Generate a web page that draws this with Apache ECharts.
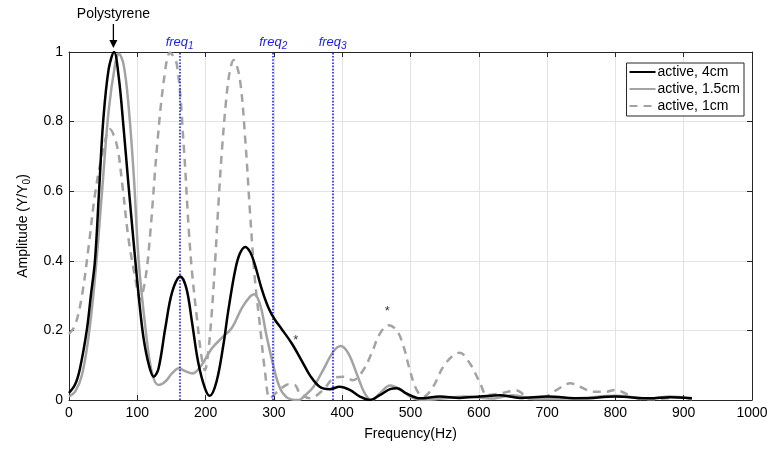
<!DOCTYPE html>
<html>
<head>
<meta charset="utf-8">
<script src="https://cdn.jsdelivr.net/npm/echarts@6/dist/echarts.min.js"></script>
<style>
html,body{margin:0;padding:0;background:#fff;}
#chart{width:771px;height:449px;}
</style>
</head>
<body>
<div id="chart"></div>
<script>
// ---- data ----
const seriesNames = ['active, 4cm', 'active, 1.5cm', 'active, 1cm'];

const freq4cm = [0,9,16,26,32,38,44,50,58,66,73,80,87,95,102,109,117,124,131,141,151,163,172,180,189,199,206,216,226,233,243,250,258,265,272,282,292,301,311,326,341,353,367,382,396,411,426,441,455,470,480,494,514,543,572,602,631,660,700,750,800,850,880,912];
const amp4cm  = [0.02,0.045,0.09,0.2,0.3,0.4,0.6,0.8,0.95,1.0,0.925,0.78,0.62,0.445,0.3,0.18,0.1,0.067,0.09,0.207,0.31,0.355,0.32,0.225,0.11,0.034,0.012,0.053,0.158,0.254,0.37,0.42,0.44,0.426,0.39,0.32,0.265,0.232,0.205,0.163,0.112,0.07,0.038,0.031,0.038,0.029,0.01,0.0,0.014,0.031,0.034,0.019,0.005,0.01,0.006,0.01,0.014,0.006,0.01,0.005,0.01,0.005,0.008,0.005];

const freq15cm = [0,9,19,29,38,48,58,68,73,80,87,95,102,112,121,131,141,151,161,170,181,194,209,223,238,253,265,271,280,289,299,309,321,336,345,358,372,387,398,409,421,433,443,455,470,485,499,519,550,580,620,650,680,750,800,850,880,912];
const amp15cm  = [0.01,0.024,0.072,0.187,0.35,0.59,0.83,0.97,0.995,0.963,0.85,0.64,0.4,0.206,0.082,0.043,0.053,0.077,0.091,0.083,0.076,0.1,0.148,0.177,0.206,0.264,0.297,0.304,0.273,0.187,0.1,0.034,0.005,0.0,0.012,0.038,0.086,0.139,0.155,0.134,0.077,0.019,0.0,0.019,0.042,0.031,0.01,0.0,0.005,0.01,0.004,0.014,0.003,0.006,0.012,0.004,0.01,0.003];

const freq1cm = [0,9,19,29,38,48,60,70,78,87,97,104,112,119,129,139,148,158,168,175,180,187,194,199,204,209,214,219,224,230,235,241,250,258,265,272,280,287,294,303,311,322,331,338,353,372,387,402,416,431,443,455,468,480,490,499,509,519,533,548,563,572,587,602,612,631,655,675,699,714,734,748,768,787,799,817,831,851,875,890,912];
const amp1cm  = [0.19,0.215,0.3,0.445,0.59,0.7,0.778,0.733,0.62,0.465,0.35,0.29,0.35,0.48,0.73,0.92,0.998,0.963,0.73,0.5,0.37,0.24,0.125,0.086,0.14,0.25,0.4,0.57,0.72,0.86,0.94,0.977,0.924,0.75,0.54,0.35,0.206,0.081,0.005,0.02,0.034,0.045,0.043,0.019,0.005,0.029,0.062,0.067,0.057,0.086,0.134,0.19,0.215,0.2,0.153,0.086,0.029,0.01,0.038,0.096,0.129,0.136,0.105,0.048,0.014,0.019,0.027,0.005,0.01,0.029,0.048,0.038,0.024,0.024,0.029,0.017,0.005,0.002,0.005,0.008,0.002];

const freqMarks = [162, 299, 386];          // dotted blue reference lines
const starFreqs = [332, 466];               // asterisk annotations
const starAmps  = [0.17, 0.255];
const peakLabel = 'Polystyrene';
const peakFreq = 65, peakAmp = 1.0;

const xTicks = {min:0, max:1000, interval:100};
const yTicks = {min:0, max:1, interval:0.2};

// ---- chart ----
const pairs = (xs, ys) => xs.map((x, i) => [x, ys[i]]);
const FONT = '"Liberation Sans", Arial, Helvetica, sans-serif';
const chart = echarts.init(document.getElementById('chart'));

const tickAxisCommon = {
  axisLine: {show: true, onZero: false, lineStyle: {color: '#262626', width: 1}},
  axisTick: {show: true, inside: true, length: 5, lineStyle: {color: '#262626'}},
};

const option = {
  backgroundColor: '#fff',
  animation: false,
  grid: {left: 69, right: 19, top: 52, bottom: 49, containLabel: false},
  legend: {
    data: seriesNames,
    orient: 'vertical',
    right: 27, top: 63,
    backgroundColor: '#fff',
    borderColor: '#262626', borderWidth: 1,
    padding: [2, 4, 3, 2],
    itemWidth: 26, itemHeight: 14, itemGap: 3,
    selectedMode: false,
    itemStyle: {color: 'transparent', borderColor: 'transparent', borderWidth: 0, opacity: 0},
    textStyle: {fontFamily: FONT, fontSize: 14, color: '#000', padding: [0, 0, 0, -3]}
  },
  xAxis: [
    Object.assign({
      type: 'value', min: xTicks.min, max: xTicks.max, interval: xTicks.interval,
      name: 'Frequency(Hz)', nameLocation: 'middle', nameGap: 27,
      nameTextStyle: {fontFamily: FONT, fontSize: 14, color: '#000'},
      axisLabel: {fontFamily: FONT, fontSize: 14, color: '#000', margin: 6, formatter: v => String(v)},
      splitLine: {show: true, lineStyle: {color: '#e3e3e3', width: 1}}
    }, tickAxisCommon),
    Object.assign({
      type: 'value', position: 'top', min: xTicks.min, max: xTicks.max, interval: xTicks.interval,
      axisLabel: {show: false}, splitLine: {show: false}
    }, tickAxisCommon)
  ],
  yAxis: [
    Object.assign({
      type: 'value', min: yTicks.min, max: yTicks.max, interval: yTicks.interval,
      name: 'Amplitude (Y/Y{sub|0})', nameLocation: 'middle', nameGap: 37,
      nameTextStyle: {fontFamily: FONT, fontSize: 14, color: '#000',
        rich: {sub: {fontFamily: FONT, fontSize: 10, color: '#000', padding: [0, 0, -8, 0]}}},
      axisLabel: {fontFamily: FONT, fontSize: 14, color: '#000', margin: 6, formatter: v => String(v)},
      splitLine: {show: true, lineStyle: {color: '#e3e3e3', width: 1}}
    }, tickAxisCommon),
    Object.assign({
      type: 'value', position: 'right', min: yTicks.min, max: yTicks.max, interval: yTicks.interval,
      axisLabel: {show: false}, splitLine: {show: false}
    }, tickAxisCommon)
  ],
  series: [
    {
      name: seriesNames[0], type: 'line', data: pairs(freq4cm, amp4cm),
      smooth: 0.35, symbol: 'none', z: 5,
      lineStyle: {color: '#000', width: 2.5}, itemStyle: {color: '#000'},
      markLine: {
        silent: true, symbol: ['none', 'none'], animation: false,
        lineStyle: {color: '#1a1aff', type: 'dotted', width: 1.6},
        label: {
          show: true, position: 'end', distance: 3,
          formatter: p => 'freq{s|' + (freqMarks.indexOf(p.value) + 1) + '}',
          fontFamily: FONT, fontSize: 13, fontStyle: 'italic', color: '#1a1aff',
          rich: {s: {fontFamily: FONT, fontSize: 10, fontStyle: 'italic', color: '#1a1aff', padding: [0, 0, -8, 0]}}
        },
        data: freqMarks.map(f => ({xAxis: f}))
      }
    },
    {
      name: seriesNames[1], type: 'line', data: pairs(freq15cm, amp15cm),
      smooth: 0.35, symbol: 'none', z: 4,
      lineStyle: {color: '#a3a3a3', width: 2.5}, itemStyle: {color: '#a3a3a3'}
    },
    {
      name: seriesNames[2], type: 'line', data: pairs(freq1cm, amp1cm),
      smooth: 0.35, symbol: 'none', z: 3,
      lineStyle: {color: '#a3a3a3', width: 2.5, type: [8, 6]}, itemStyle: {color: '#a3a3a3'}
    },
    {
      name: 'stars', type: 'scatter', data: pairs(starFreqs, starAmps),
      symbolSize: 0, silent: true,
      label: {show: true, position: 'inside', formatter: '*', fontFamily: FONT, fontSize: 13, color: '#000'}
    }
  ]
};
chart.setOption(option);

// Polystyrene annotation placed with the chart's own scale
const pk = chart.convertToPixel({xAxisIndex: 0, yAxisIndex: 0}, [peakFreq, peakAmp]);
chart.setOption({
  graphic: [
    {type: 'text', x: pk[0], y: pk[1] - 38, style: {text: peakLabel, font: '14px ' + FONT, fill: '#000', align: 'center', verticalAlign: 'middle'}},
    {type: 'line', shape: {x1: pk[0], y1: pk[1] - 28, x2: pk[0], y2: pk[1] - 6}, style: {stroke: '#000', lineWidth: 1.3}},
    {type: 'polygon', shape: {points: [[pk[0] - 4, pk[1] - 12], [pk[0] + 4, pk[1] - 12], [pk[0], pk[1] - 4]]}, style: {fill: '#000'}}
  ]
});
</script>
</body>
</html>
